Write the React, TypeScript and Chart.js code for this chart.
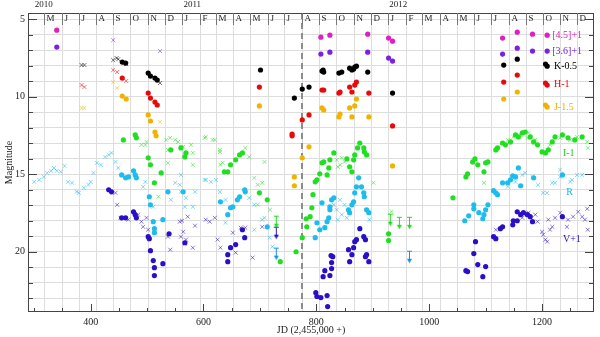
import React, { useEffect, useRef } from 'react';
import { Chart, registerables } from 'chart.js';
Chart.register(...registerables);

const SERIF = '"Liberation Serif", "DejaVu Serif", serif';

// ---------- data (JD - 2455000, magnitude) ----------
const m45DotJD = [340, 808, 824, 891, 928, 935, 1130, 1156, 1183, 1209];
const m45DotMag = [5.71, 6.16, 6.03, 5.97, 6.22, 6.42, 6.22, 5.84, 5.97, 6.03];

const m36DotJD = [340, 808, 824, 891, 928, 935, 1130, 1156, 1183, 1209];
const m36DotMag = [6.80, 7.25, 7.13, 7.13, 7.51, 7.70, 7.25, 6.87, 7.06, 7.06];
const m36CrossJD = [440, 523];
const m36CrossMag = [6.35, 7.06];

const kDotJD = [456, 462, 502, 506, 514, 518, 701, 761, 775, 787, 810, 812, 813, 840, 845, 859, 863, 866, 868, 871, 891, 935, 1132, 1156, 1206, 1209];
const kDotMag = [7.77, 7.83, 8.48, 8.67, 8.80, 8.93, 8.28, 10.09, 9.51, 9.38, 8.35, 8.28, 8.41, 8.48, 8.41, 8.16, 8.28, 8.22, 8.09, 8.03, 8.41, 9.77, 7.96, 7.58, 7.90, 8.03];
const kCrossJD = [384, 389, 440, 446, 449, 463, 523];
const kCrossMag = [7.96, 7.96, 7.64, 7.51, 7.58, 7.90, 9.12];

const hDotJD = [456, 502, 506, 514, 518, 699, 757, 757, 775, 787, 810, 813, 840, 842, 859, 863, 868, 871, 893, 935, 1132, 1156, 1206, 1209];
const hDotMag = [8.80, 9.77, 10.09, 10.35, 10.54, 9.38, 12.41, 12.53, 11.50, 11.18, 9.57, 9.57, 9.77, 9.70, 9.38, 9.70, 9.25, 9.06, 9.77, 11.89, 9.06, 8.61, 9.12, 9.25];
const hCrossJD = [384, 389, 440, 447, 463];
const hCrossMag = [9.25, 9.38, 8.28, 8.41, 8.99];

const jDotJD = [456, 463, 502, 506, 514, 516, 699, 761, 761, 775, 787, 810, 813, 840, 842, 859, 863, 868, 871, 893, 935, 1132, 1156, 1206, 1209];
const jDotMag = [9.96, 10.15, 11.18, 11.57, 12.28, 12.53, 10.60, 15.18, 15.75, 13.95, 13.24, 10.73, 10.86, 11.31, 11.12, 10.73, 11.31, 10.60, 10.15, 11.31, 14.47, 10.15, 9.70, 10.54, 10.67];
const jCrossJD = [384, 389, 440, 447, 523];
const jCrossMag = [10.73, 10.73, 9.06, 9.44, 11.63];

const iDotJD = [458, 479, 481, 502, 506, 513, 525, 542, 560, 567, 569, 637, 643, 648, 657, 664, 669, 699, 713, 736, 764, 775, 782, 783, 789, 792, 794, 798, 801, 806, 810, 813, 819, 822, 824, 831, 854, 859, 863, 866, 868, 873, 877, 884, 885, 889, 928, 928, 1042, 1065, 1068, 1077, 1081, 1086, 1097, 1100, 1104, 1118, 1121, 1130, 1135, 1144, 1153, 1158, 1165, 1170, 1179, 1185, 1192, 1200, 1206, 1211, 1218, 1223, 1236, 1246, 1258, 1271];
const iDotMag = [12.79, 12.47, 12.66, 13.95, 14.40, 15.56, 14.92, 13.44, 13.31, 13.89, 13.63, 14.85, 14.85, 14.40, 14.08, 13.76, 13.63, 16.21, 16.66, 20.65, 20.01, 19.10, 17.88, 18.40, 17.75, 17.17, 16.33, 15.50, 15.37, 14.98, 14.27, 14.21, 15.05, 14.60, 14.08, 13.63, 14.02, 14.53, 14.85, 14.08, 13.76, 13.31, 12.99, 13.31, 13.57, 13.76, 18.85, 19.29, 16.53, 15.18, 14.98, 14.21, 14.02, 14.40, 14.85, 14.27, 14.21, 13.44, 13.31, 12.99, 13.11, 12.92, 12.47, 12.60, 12.34, 12.28, 12.60, 12.92, 13.11, 13.57, 13.63, 13.44, 12.92, 12.60, 12.47, 12.66, 12.79, 12.60];
const iCrossJD = [490, 497, 499, 520, 534, 537, 537, 541, 550, 555, 560, 564, 567, 578, 581, 581, 602, 604, 616, 620, 629, 629, 630, 634, 674, 681, 690, 696, 696, 704, 708, 718, 836, 838, 842, 845, 850, 901, 933, 1097, 1139, 1149, 1162, 1174, 1176, 1188, 1214, 1232, 1250, 1262, 1280, 1281];
const iCrossMag = [13.11, 13.11, 12.92, 16.46, 12.79, 13.44, 14.27, 12.66, 12.79, 12.92, 13.24, 13.24, 13.76, 13.11, 13.63, 14.40, 12.66, 12.60, 12.79, 12.79, 13.44, 13.57, 14.40, 14.27, 13.31, 13.89, 15.24, 15.69, 16.98, 15.56, 14.21, 17.30, 14.08, 14.53, 14.40, 13.95, 14.21, 15.56, 17.43, 15.56, 12.79, 12.60, 12.47, 12.66, 12.34, 12.79, 13.11, 12.66, 12.79, 12.60, 12.92, 13.31];
const iLimitJD = [729, 931, 947, 965];
const iLimitMag = [18.07, 17.94, 18.14, 18.14];

const rDotJD = [455, 462, 467, 476, 479, 481, 504, 506, 511, 513, 513, 528, 537, 564, 630, 643, 648, 652, 660, 664, 673, 674, 713, 798, 801, 806, 810, 815, 819, 822, 824, 824, 827, 831, 857, 859, 863, 866, 868, 871, 875, 880, 884, 885, 889, 893, 1063, 1070, 1079, 1079, 1088, 1095, 1097, 1100, 1104, 1114, 1118, 1121, 1130, 1139, 1144, 1148, 1153, 1158, 1162, 1185, 1236];
const rDotMag = [15.05, 15.24, 15.18, 14.79, 15.05, 15.24, 16.46, 16.98, 18.07, 18.52, 18.78, 17.94, 16.14, 16.14, 16.79, 17.62, 17.17, 17.11, 16.66, 16.46, 16.01, 16.14, 18.40, 19.10, 18.14, 18.59, 16.85, 18.46, 18.07, 17.82, 17.30, 17.11, 16.66, 16.53, 17.30, 17.49, 16.98, 16.79, 16.21, 15.82, 15.24, 15.82, 16.21, 16.46, 17.30, 17.49, 18.01, 17.69, 17.24, 16.98, 17.49, 17.88, 17.62, 17.30, 16.98, 16.07, 16.21, 16.33, 15.56, 15.56, 15.37, 15.11, 15.18, 14.60, 15.75, 15.24, 15.05];
const rCrossJD = [300, 309, 317, 323, 330, 335, 340, 347, 354, 360, 367, 375, 379, 388, 396, 400, 405, 411, 418, 426, 432, 437, 444, 449, 493, 497, 511, 542, 550, 558, 560, 560, 567, 569, 581, 585, 602, 604, 613, 622, 629, 639, 639, 681, 690, 690, 704, 708, 717, 722, 831, 836, 838, 842, 845, 850, 854, 894, 1139, 1153, 1165, 1170, 1183, 1193, 1202, 1209, 1218, 1223, 1232, 1232, 1250, 1253, 1262, 1271];
const rCrossMag = [15.50, 15.37, 15.18, 14.92, 14.79, 14.60, 14.79, 14.85, 14.47, 15.50, 15.56, 16.14, 16.21, 15.88, 15.69, 15.50, 14.92, 14.27, 14.40, 13.89, 13.76, 13.63, 14.21, 14.60, 15.82, 15.50, 17.11, 16.66, 15.56, 15.69, 15.05, 16.14, 17.11, 16.53, 17.11, 16.14, 15.37, 15.37, 15.50, 15.37, 16.14, 16.66, 18.14, 16.53, 16.98, 18.59, 17.94, 17.82, 19.10, 19.68, 16.98, 17.30, 17.94, 16.66, 17.62, 16.98, 17.82, 17.94, 15.82, 15.50, 15.05, 14.92, 15.18, 15.69, 16.21, 16.21, 15.56, 15.56, 14.72, 15.18, 15.50, 15.37, 15.05, 15.05];
const rLimitJD = [729, 965];
const rLimitMag = [20.13, 20.33];

const vDotJD = [432, 437, 455, 462, 476, 479, 481, 502, 504, 506, 511, 513, 513, 528, 539, 567, 643, 643, 648, 657, 669, 673, 799, 801, 808, 812, 815, 819, 820, 824, 826, 827, 827, 829, 857, 859, 863, 866, 868, 871, 877, 884, 887, 887, 889, 893, 1065, 1068, 1079, 1082, 1086, 1095, 1100, 1114, 1118, 1126, 1130, 1148, 1149, 1156, 1156, 1162, 1167, 1174, 1179, 1183, 1236];
const vDotMag = [16.01, 16.14, 17.82, 17.82, 17.43, 17.62, 17.82, 19.04, 19.17, 19.94, 20.58, 21.04, 21.55, 20.78, 18.85, 19.43, 20.20, 20.65, 19.75, 19.55, 18.59, 19.10, 22.65, 22.90, 22.97, 21.62, 21.23, 22.84, 23.55, 21.55, 20.26, 21.10, 20.71, 20.33, 19.88, 20.65, 20.20, 19.75, 19.36, 19.23, 18.52, 19.04, 19.23, 20.33, 20.20, 20.65, 21.23, 21.29, 20.13, 19.36, 20.84, 21.62, 20.97, 19.04, 19.17, 18.52, 18.40, 18.27, 18.01, 18.01, 17.43, 17.62, 17.49, 17.62, 17.75, 18.07, 17.75];
const vCrossJD = [444, 447, 453, 467, 484, 490, 493, 499, 502, 537, 541, 558, 560, 562, 564, 567, 569, 572, 581, 585, 604, 611, 620, 625, 630, 652, 657, 666, 674, 687, 704, 1118, 1165, 1176, 1188, 1192, 1200, 1202, 1206, 1209, 1211, 1214, 1218, 1223, 1232, 1244, 1246, 1255, 1264, 1271, 1276, 1280, 1281];
const vCrossMag = [16.21, 16.98, 17.82, 17.94, 17.62, 18.07, 18.40, 17.82, 18.59, 19.04, 19.88, 18.07, 19.04, 18.01, 18.72, 19.49, 19.23, 17.75, 19.75, 18.33, 17.94, 18.07, 17.82, 19.23, 19.75, 18.78, 20.07, 18.46, 18.46, 20.39, 18.40, 18.59, 17.82, 17.49, 17.62, 18.07, 18.72, 18.91, 19.23, 19.36, 17.94, 18.59, 18.40, 17.82, 17.49, 18.40, 17.94, 17.75, 17.43, 17.75, 17.94, 17.24, 18.59];
const vLimitJD = [729];
const vLimitMag = [18.78];

// axis ticks and labels
const xTickLabels = [400, 600, 800, 1000, 1200];
const xMinorTicks = [300, 350, 400, 450, 500, 550, 600, 650, 700, 750, 800, 850, 900, 950, 1000, 1050, 1100, 1150, 1200, 1250];
const yGridValues = [5, 6, 7, 8, 9, 10, 11, 12, 13, 14, 15, 16, 17, 18, 19, 20, 21, 22, 23];
const monthLetters = ['J', 'F', 'M', 'A', 'M', 'J', 'J', 'A', 'S', 'O', 'N', 'D'];
const years = [2010, 2011, 2012];
const yearLabelJD = [317, 580, 945];
const dividerJD = 775;

// series labels (text, colour, JD position, magnitude position)
const seriesLabels: [string, string, number, number][] = [
  ['[4.5]+1', '#e01ec4', 1218, 6.03],
  ['[3.6]+1', '#7a22e0', 1218, 7.06],
  ['K-0.5', '#000000', 1221, 8.03],
  ['H-1', '#e80a0a', 1221, 9.19],
  ['J-1.5', '#eeb000', 1221, 10.67],
  ['I-1', '#22cc22', 1237, 13.63],
  ['R', '#1cb4e8', 1243, 16.21],
  ['V+1', '#3010c0', 1237, 19.23],
];

const C = {
  m45: '#e01ec4', m36: '#7a22e0', k: '#000000', h: '#e80a0a', j: '#f0b400',
  i: '#1fe01f', r: '#1cbcee', v: '#2a0fc8',
};

function pts(xs: number[], ys: number[]) {
  return xs.map((x, i) => ({ x, y: ys[i] }));
}

function hexA(hex: string, a: number) {
  const n = parseInt(hex.slice(1), 16);
  return `rgba(${(n >> 16) & 255},${(n >> 8) & 255},${n & 255},${a})`;
}

function arrowImg(color: string) {
  const c = document.createElement('canvas');
  c.width = 7; c.height = 14;
  const g = c.getContext('2d')!;
  g.strokeStyle = color; g.fillStyle = color; g.lineWidth = 1;
  g.beginPath(); g.moveTo(1, 1.5); g.lineTo(6, 1.5); g.stroke();
  g.beginPath(); g.moveTo(3.5, 1); g.lineTo(3.5, 10); g.stroke();
  g.beginPath(); g.moveTo(1, 9); g.lineTo(6, 9); g.lineTo(3.5, 13.5); g.closePath(); g.fill();
  return c;
}

function dots(xs: number[], ys: number[], color: string) {
  return {
    data: pts(xs, ys), order: 0, pointStyle: 'circle', pointRadius: 2.6,
    backgroundColor: color, borderColor: color, borderWidth: 0, showLine: false,
  };
}
function crosses(xs: number[], ys: number[], color: string) {
  return {
    data: pts(xs, ys), order: 1, pointStyle: 'crossRot', pointRadius: 2.8,
    backgroundColor: hexA(color, 0.5), borderColor: hexA(color, 0.55), borderWidth: 1, showLine: false,
  };
}
function limits(xs: number[], ys: number[], color: string) {
  return {
    data: pts(xs, ys), order: 0, pointStyle: arrowImg(color), pointRadius: 5,
    backgroundColor: color, borderColor: color, showLine: false,
  };
}

const decor = {
  id: 'decor',
  beforeDatasetsDraw(chart: any) {
    const { ctx, chartArea: a, scales } = chart;
    const x = scales.x;
    ctx.save();
    ctx.strokeStyle = '#dddddd';
    ctx.lineWidth = 1;
    for (const yr of [2010, 2011, 2012, 2013]) {
      for (let m = 0; m < 12; m++) {
        const jd = Date.UTC(yr, m, 1) / 864e5 + 2440587.5 - 2455000;
        if (jd <= x.min || jd >= x.max) continue;
        const px = Math.round(x.getPixelForValue(jd)) + 0.5;
        ctx.beginPath(); ctx.moveTo(px, a.top); ctx.lineTo(px, a.bottom); ctx.stroke();
      }
    }
    const dx = Math.round(x.getPixelForValue(dividerJD));
    ctx.strokeStyle = '#8c8c8c';
    ctx.lineWidth = 2;
    ctx.setLineDash([6, 4]);
    ctx.beginPath(); ctx.moveTo(dx, a.top); ctx.lineTo(dx, a.bottom); ctx.stroke();
    ctx.restore();
  },
  afterDatasetsDraw(chart: any) {
    const { ctx, chartArea: a, scales } = chart;
    const x = scales.x, y = scales.y;
    ctx.save();
    // frame
    ctx.strokeStyle = '#444';
    ctx.lineWidth = 1;
    ctx.strokeRect(a.left + 0.5, a.top + 0.5, a.right - a.left - 1, a.bottom - a.top - 1);
    // y ticks (inward, both sides)
    for (const v of yGridValues) {
      const py = Math.round(y.getPixelForValue(v)) + 0.5;
      const len = v % 5 === 0 ? 9 : 5;
      ctx.beginPath();
      ctx.moveTo(a.left, py); ctx.lineTo(a.left + len, py);
      ctx.moveTo(a.right, py); ctx.lineTo(a.right - len, py);
      ctx.stroke();
    }
    // x ticks
    for (const v of xMinorTicks) {
      const px = Math.round(x.getPixelForValue(v)) + 0.5;
      const len = v % 200 === 0 ? 8 : 4;
      ctx.beginPath(); ctx.moveTo(px, a.bottom); ctx.lineTo(px, a.bottom - len); ctx.stroke();
    }
    // month row
    ctx.fillStyle = '#222';
    ctx.font = `9px ${SERIF}`;
    ctx.textBaseline = 'middle';
    ctx.textAlign = 'left';
    ctx.strokeStyle = '#777';
    for (const yr of [2010, 2011, 2012]) {
      for (let m = 0; m < 12; m++) {
        const jd = Date.UTC(yr, m, 1) / 864e5 + 2440587.5 - 2455000;
        if (jd <= x.min || jd >= x.max) continue;
        const px = Math.round(x.getPixelForValue(jd)) + 0.5;
        ctx.beginPath(); ctx.moveTo(px, a.top); ctx.lineTo(px, a.top + 12); ctx.stroke();
        ctx.fillText(monthLetters[m], px + 2, a.top + 6);
      }
    }
    // years
    ctx.textAlign = 'center';
    years.forEach((yr, i) => {
      ctx.fillText(String(yr), x.getPixelForValue(yearLabelJD[i]), 5);
    });
    // series labels
    ctx.font = `10px ${SERIF}`;
    ctx.textAlign = 'left';
    for (const [t, col, jx, my] of seriesLabels) {
      ctx.fillStyle = col;
      ctx.fillText(t, x.getPixelForValue(jx), y.getPixelForValue(my));
    }
    // axis titles
    ctx.fillStyle = '#222';
    ctx.textAlign = 'center';
    ctx.fillText('JD (2,455,000 +)', (a.left + a.right) / 2, 330);
    ctx.translate(9, (a.top + a.bottom) / 2);
    ctx.rotate(-Math.PI / 2);
    ctx.fillText('Magnitude', 0, 0);
    ctx.restore();
  },
};

export default function App() {
  const ref = useRef<HTMLCanvasElement>(null);
  useEffect(() => {
    const datasets: any[] = [
      dots(m45DotJD, m45DotMag, C.m45),
      dots(m36DotJD, m36DotMag, C.m36),
      crosses(m36CrossJD, m36CrossMag, C.m36),
      dots(kDotJD, kDotMag, C.k),
      crosses(kCrossJD, kCrossMag, C.k),
      dots(hDotJD, hDotMag, C.h),
      crosses(hCrossJD, hCrossMag, C.h),
      dots(jDotJD, jDotMag, C.j),
      crosses(jCrossJD, jCrossMag, C.j),
      crosses(iCrossJD, iCrossMag, C.i),
      dots(iDotJD, iDotMag, C.i),
      limits(iLimitJD, iLimitMag, C.i),
      crosses(rCrossJD, rCrossMag, C.r),
      dots(rDotJD, rDotMag, C.r),
      limits(rLimitJD, rLimitMag, '#1a90e0'),
      crosses(vCrossJD, vCrossMag, C.v),
      dots(vDotJD, vDotMag, C.v),
      limits(vLimitJD, vLimitMag, C.v),
    ];
    const chart = new Chart(ref.current!, {
      type: 'scatter',
      data: { datasets },
      options: {
        animation: false,
        responsive: false,
        events: [],
        layout: { padding: { top: 13, right: 2, left: 0, bottom: 0 } },
        plugins: { legend: { display: false }, tooltip: { enabled: false } },
        scales: {
          x: {
            type: 'linear', min: 289, max: 1292,
            afterFit: (s: any) => { s.height = 25; },
            afterBuildTicks: (s: any) => { s.ticks = xTickLabels.map((v) => ({ value: v })); },
            grid: { display: false, drawTicks: false },
            border: { display: false },
            ticks: {
              padding: 4, color: '#222', font: { family: SERIF, size: 10 },
              maxRotation: 0, autoSkip: false, callback: (v: any) => String(v),
            },
          },
          y: {
            type: 'linear', reverse: true, min: 4.6, max: 23.9,
            afterFit: (s: any) => { s.width = 28; },
            afterBuildTicks: (s: any) => { s.ticks = yGridValues.map((v) => ({ value: v })); },
            grid: { color: '#dddddd', drawTicks: false, lineWidth: 1 },
            border: { display: false },
            ticks: {
              padding: 3, color: '#222', font: { family: SERIF, size: 10 },
              autoSkip: false, callback: (v: any) => (Number(v) % 5 === 0 ? String(v) : ''),
            },
          },
        },
      } as any,
      plugins: [decor],
    });
    return () => chart.destroy();
  }, []);
  return (
    <div style={{ position: 'absolute', left: 0, top: 0, width: 600, height: 337, background: '#fff' }}>
      <canvas ref={ref} width={600} height={337} style={{ display: 'block' }} />
    </div>
  );
}
